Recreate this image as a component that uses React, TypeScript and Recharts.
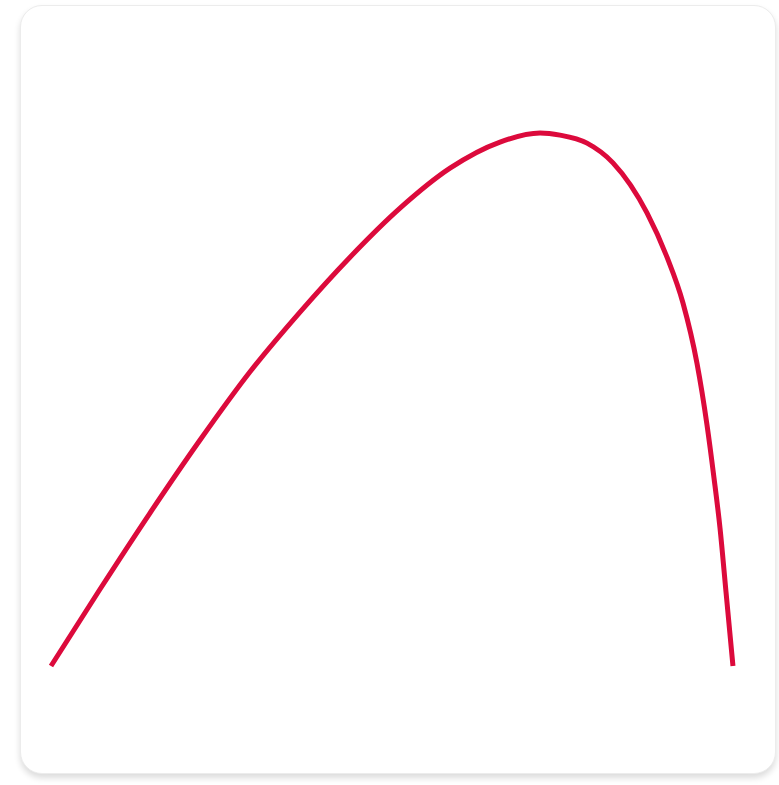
import { LineChart, Line, XAxis, YAxis } from "recharts";

// curve samples (x: 0..100 across, y: 0..100 of peak height)
const xValues = [0, 7.17, 14.49, 21.82, 29.14, 36.46, 43.78, 51.1, 58.42, 65.74, 71.6, 74.52, 78.48, 82.28, 87.26, 90.19, 92.53, 94.58, 96.05, 97.07, 97.95, 98.83, 99.85];
const yValues = [0, 14.4, 28.7, 42.4, 55.2, 66.4, 76.7, 85.9, 93.4, 98.3, 100, 99.6, 98.1, 94.4, 85.0, 76.7, 68.1, 56.8, 45.2, 35.3, 25.9, 13.9, 0];

const data = xValues.map((x, i) => ({ x, y: yValues[i] }));

export default function App() {
  return (
    <div
      style={{
        position: "absolute",
        left: 20,
        top: 5,
        width: 756,
        height: 769,
        background: "#fff",
        border: "1px solid #ececec",
        borderRadius: 22,
        boxShadow: "0 4px 6px rgba(0,0,0,0.14)",
        boxSizing: "border-box",
      }}
    >
      <LineChart width={754} height={767} data={data} margin={{ left: 30, right: 41, top: 127, bottom: 107 }}>
        <XAxis type="number" dataKey="x" domain={[0, 100]} hide />
        <YAxis type="number" domain={[0, 100]} hide />
        <Line
          type="monotone"
          dataKey="y"
          stroke="#dc0a3c"
          strokeWidth={5}
          dot={false}
          isAnimationActive={false}
        />
      </LineChart>
    </div>
  );
}
